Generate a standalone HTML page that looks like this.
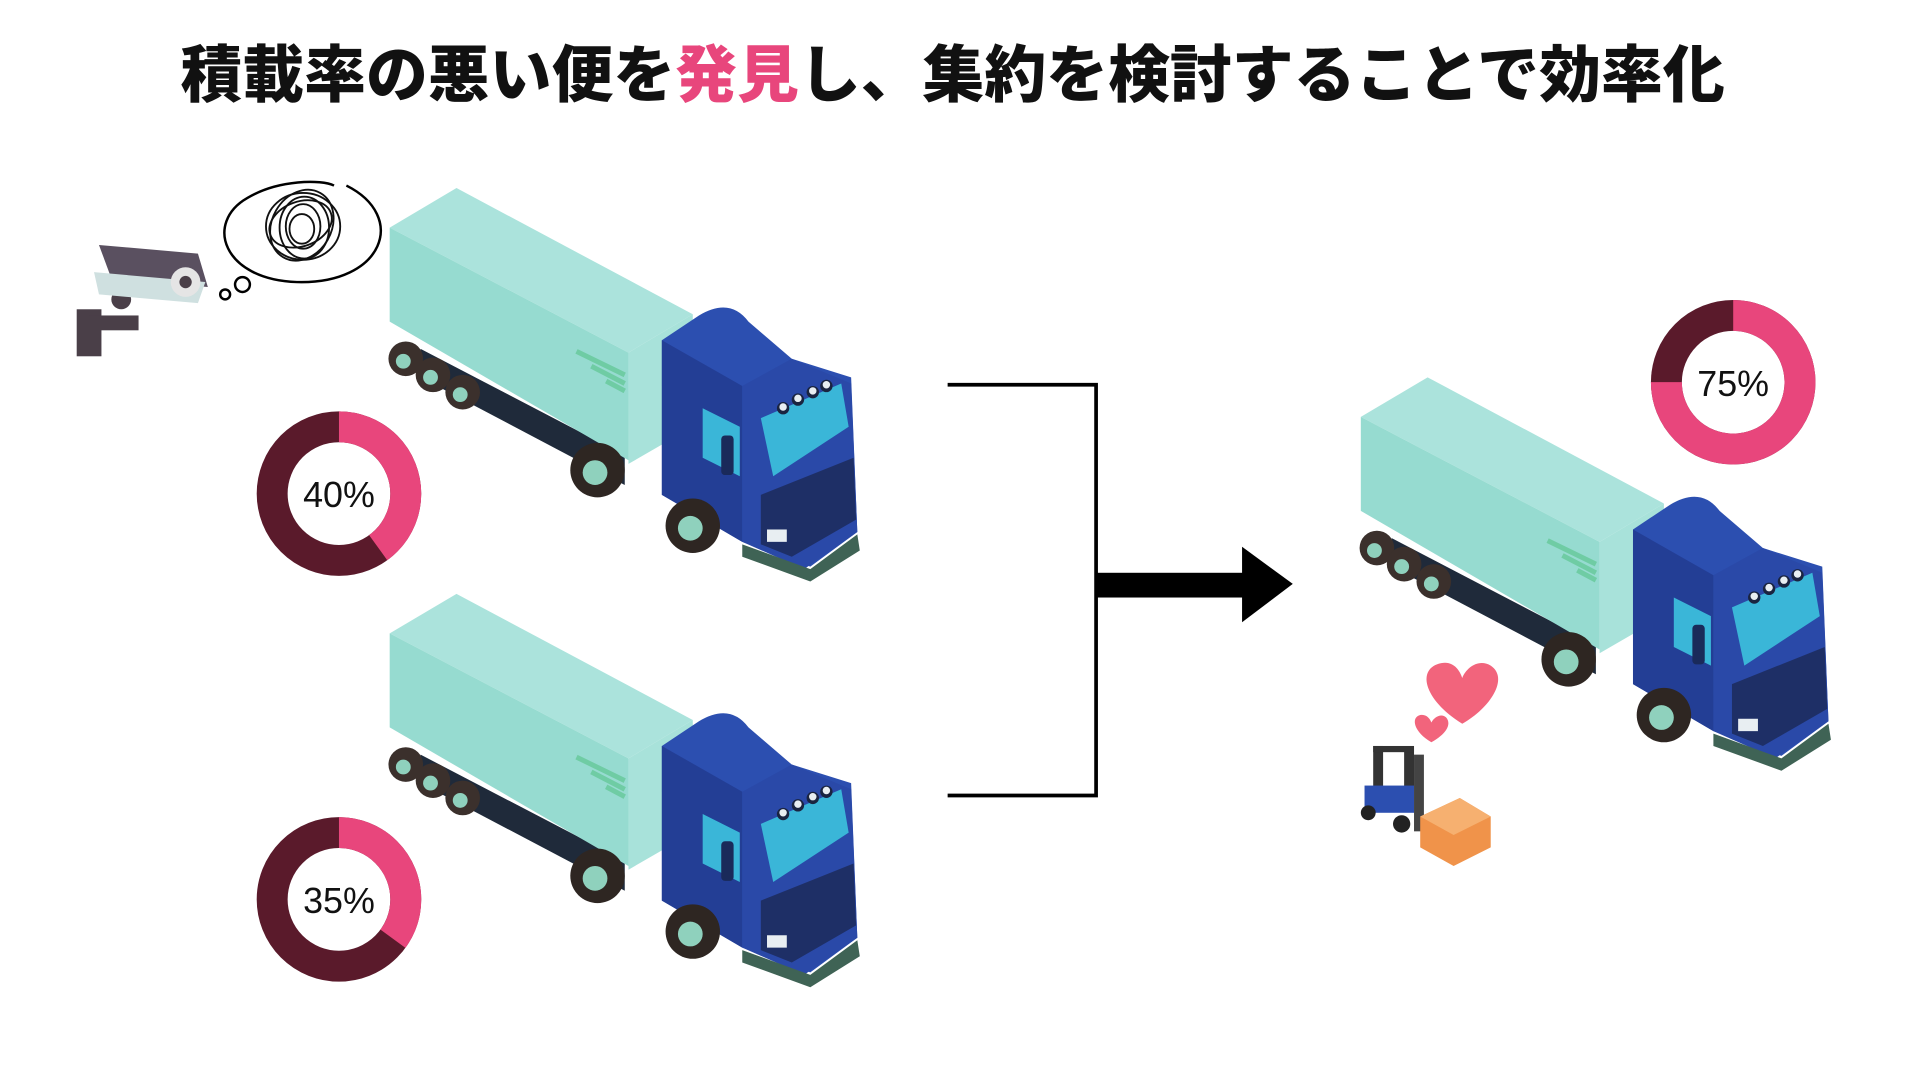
<!DOCTYPE html>
<html><head><meta charset="utf-8"><style>
html,body{margin:0;padding:0;background:#fff;width:1920px;height:1080px;overflow:hidden}
svg{display:block}
</style></head><body>
<svg width="1920" height="1080" viewBox="0 0 1552 873" xmlns="http://www.w3.org/2000/svg">
<defs>
<g id="truck">
  <!-- chassis -->
  <polygon points="340,282 505,368 505,392 340,305" fill="#1f2a3a"/>
  <!-- rear wheels -->
  <g fill="#3b302c"><circle cx="328" cy="290" r="14"/><circle cx="350" cy="303" r="14"/><circle cx="374" cy="317" r="14"/></g>
  <g fill="#8fd1bd"><circle cx="326" cy="292" r="6"/><circle cx="348" cy="305" r="6"/><circle cx="372" cy="319" r="6"/></g>
  <!-- container -->
  <polygon points="315,184 369,152 560,254 508,285" fill="#abe3dc"/>
  <polygon points="315,184 508,285 508,372 315,260" fill="#96dbd0"/>
  <polygon points="508,285 560,254 560,345 508,375" fill="#a8e2da"/>
  <g stroke="#6fcca4" stroke-width="4"><line x1="466" y1="284" x2="505" y2="303"/><line x1="478" y1="296" x2="505" y2="310"/><line x1="490" y1="308" x2="505" y2="316"/></g>
  <!-- cab -->
  <path d="M535,275 L565,255 Q590,240 605,260 L640,290 L688,305 L693,430 L655,458 L600,438 L535,400Z" fill="#2c4fb0"/>
  <polygon points="535,275 600,312 600,438 535,400" fill="#233e95"/>
  <polygon points="600,312 640,290 688,310 693,430 650,460 600,438" fill="#2a49a8"/>
  <polygon points="615,338 680,310 686,345 625,385" fill="#3ab6d8"/>
  <polygon points="568,330 598,345 598,385 568,370" fill="#3ab6d8"/>
  <rect x="583" y="352" width="10" height="32" rx="3" fill="#1a2a5a"/>
  <g fill="#1a2440"><circle cx="633" cy="330" r="5"/><circle cx="645" cy="323" r="5"/><circle cx="657" cy="317" r="5"/><circle cx="668" cy="312" r="5"/></g>
  <g fill="#e8eef2"><circle cx="633" cy="329" r="3"/><circle cx="645" cy="322" r="3"/><circle cx="657" cy="316" r="3"/><circle cx="668" cy="311" r="3"/></g>
  <polygon points="615,400 690,370 692,420 640,450 615,440" fill="#1e2f66"/>
  <rect x="620" y="428" width="16" height="10" fill="#e8eef2"/>
  <polygon points="600,440 655,460 693,432 695,445 655,470 600,450" fill="#3f6355"/>
  <!-- front wheels -->
  <g fill="#2e2622"><circle cx="483" cy="380" r="22"/><circle cx="560" cy="425" r="22"/></g>
  <g fill="#8fd1bd"><circle cx="481" cy="382" r="10"/><circle cx="558" cy="427" r="10"/></g>
</g>
</defs>

<text x="770" y="78" text-anchor="middle" font-family="'Liberation Sans','Noto Sans CJK JP',sans-serif" font-size="50" font-weight="900" fill="#111">積載率の悪い便を<tspan fill="#e8467c">発見</tspan>し、集約を検討することで効率化</text>

<use href="#truck"/>
<use href="#truck" transform="translate(0,328)"/>
<use href="#truck" transform="translate(785,153)"/>

<!-- donuts -->
<g fill="none" stroke-width="25">
  <circle cx="274" cy="399" r="54" stroke="#5a1a2b"/>
  <circle cx="274" cy="399" r="54" stroke="#e8467c" stroke-dasharray="135.7 400" transform="rotate(-90 274 399)"/>
  <circle cx="274" cy="727" r="54" stroke="#5a1a2b"/>
  <circle cx="274" cy="727" r="54" stroke="#e8467c" stroke-dasharray="118.8 400" transform="rotate(-90 274 727)"/>
  <circle cx="1401" cy="309" r="54" stroke="#5a1a2b"/>
  <circle cx="1401" cy="309" r="54" stroke="#e8467c" stroke-dasharray="254.5 400" transform="rotate(-90 1401 309)"/>
</g>
<g font-family="'Liberation Sans',sans-serif" font-size="29" text-anchor="middle" fill="#111">
  <text x="274" y="410">40%</text><text x="274" y="738">35%</text><text x="1401" y="320">75%</text>
</g>

<!-- bracket & arrow -->
<polyline points="766,311 886,311 886,643 766,643" fill="none" stroke="#000" stroke-width="3"/>
<rect x="886" y="463" width="120" height="20" fill="#000"/>
<polygon points="1004,442 1045,472 1004,503" fill="#000"/>

<!-- camera -->
<g>
  <rect x="62" y="250" width="20" height="38" fill="#4a3f48"/>
  <rect x="72" y="255" width="40" height="12" fill="#4a3f48"/>
  <circle cx="98" cy="242" r="8" fill="#4a3f48"/>
  <polygon points="80,198 160,205 168,232 90,225" fill="#5a5060"/>
  <polygon points="76,220 166,228 160,245 80,238" fill="#cfe0e0"/>
  <circle cx="150" cy="228" r="12" fill="#e5e5e5"/><circle cx="150" cy="228" r="5" fill="#4a3f48"/>
</g>
<!-- thought bubble -->
<path d="M280,150 C330,175 310,230 240,228 C180,226 165,180 200,160 C225,145 260,145 270,150" fill="none" stroke="#000" stroke-width="2"/>
<circle cx="196" cy="230" r="6" fill="none" stroke="#000" stroke-width="2"/>
<circle cx="182" cy="238" r="4" fill="none" stroke="#000" stroke-width="2"/>
<g fill="none" stroke="#111" stroke-width="1.5">
  <ellipse cx="245" cy="183" rx="30" ry="27"/><ellipse cx="244" cy="182" rx="24" ry="30" transform="rotate(30 244 182)"/>
  <ellipse cx="246" cy="184" rx="20" ry="25"/><ellipse cx="243" cy="181" rx="26" ry="18" transform="rotate(-20 243 181)"/>
  <ellipse cx="245" cy="183" rx="14" ry="18"/><ellipse cx="244" cy="185" rx="10" ry="12"/>
</g>

<!-- hearts -->
<path d="M1182,585 C1150,565 1145,540 1165,536 C1175,534 1180,542 1182,548 C1185,540 1195,532 1205,538 C1220,548 1205,572 1182,585Z" fill="#f2647c"/>
<path d="M1157,600 C1143,592 1140,580 1148,578 C1153,577 1156,581 1157,584 C1159,580 1165,576 1169,580 C1174,586 1168,594 1157,600Z" fill="#f2647c"/>
<!-- forklift -->
<g>
  <rect x="1110" y="603" width="8" height="48" fill="#333"/>
  <rect x="1135" y="605" width="8" height="50" fill="#333"/>
  <rect x="1110" y="603" width="33" height="5" fill="#333"/>
  <rect x="1103" y="635" width="40" height="22" fill="#2c4fb0"/>
  <rect x="1143" y="610" width="8" height="62" fill="#444"/>
  <circle cx="1106" cy="657" r="6" fill="#222"/><circle cx="1133" cy="666" r="7" fill="#222"/>
  <polygon points="1148,660 1180,645 1205,660 1205,685 1175,700 1148,685" fill="#f0934a"/>
  <polygon points="1148,660 1175,675 1205,660 1180,645" fill="#f6b070"/>
</g>
</svg>
</body></html>
